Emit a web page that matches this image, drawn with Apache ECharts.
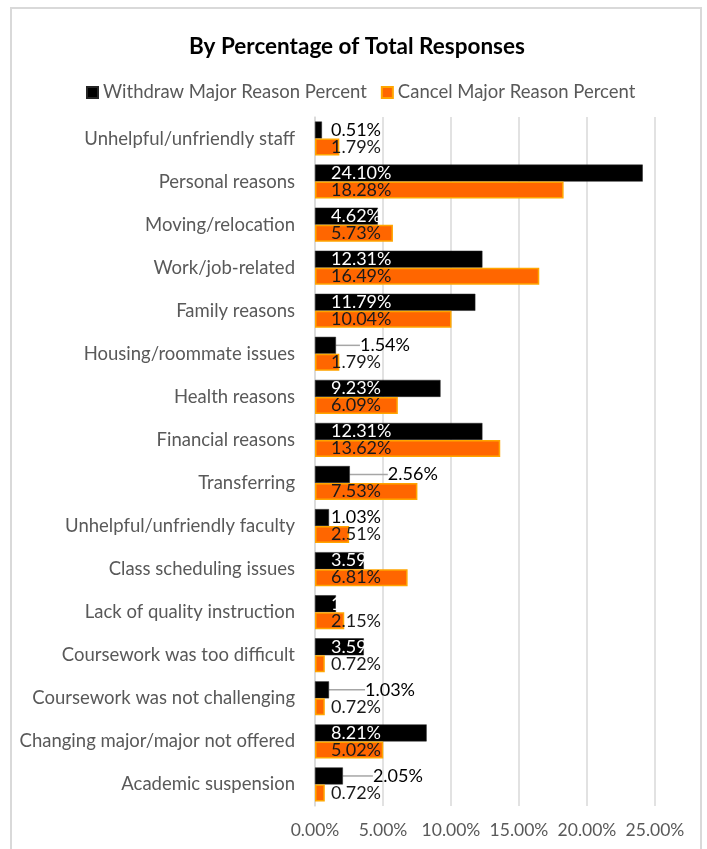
<!DOCTYPE html>
<html>
<head>
<meta charset="utf-8">
<script src="https://cdn.jsdelivr.net/npm/echarts@6/dist/echarts.min.js"></script>
<style>
  html, body { margin: 0; padding: 0; background: #fff; }
  #chart { position: absolute; left: 0; top: 0; width: 707px; height: 849px; }
  #frame { position: absolute; left: 10px; top: 7px; width: 688px; height: 860px;
           border: 2px solid #d9d9d9; pointer-events: none; }
</style>
</head>
<body>
<div id="chart"></div>
<div id="frame"></div>
<script>
const categories = [
  'Unhelpful/unfriendly staff',
  'Personal reasons',
  'Moving/relocation',
  'Work/job-related',
  'Family reasons',
  'Housing/roommate issues',
  'Health reasons',
  'Financial reasons',
  'Transferring',
  'Unhelpful/unfriendly faculty',
  'Class scheduling issues',
  'Lack of quality instruction',
  'Coursework was too difficult',
  'Coursework was not challenging',
  'Changing major/major not offered',
  'Academic suspension'
];
const withdrawPct = [0.51, 24.10, 4.62, 12.31, 11.79, 1.54, 9.23, 12.31, 2.56, 1.03, 3.59, 1.54, 3.59, 1.03, 8.21, 2.05];
const cancelPct = [1.79, 18.28, 5.73, 16.49, 10.04, 1.79, 6.09, 13.62, 7.53, 2.51, 6.81, 2.15, 0.72, 0.72, 5.02, 0.72];
const seriesNames = ['Withdraw Major Reason Percent', 'Cancel Major Reason Percent'];

// labels Excel pushed out with a leader line (index -> gap from bar end)
const leaderGap = {5: 24, 8: 38, 13: 36, 15: 30};
// labels drawn dark instead of white
const darkLabels = [0, 9];

const FONT = 'Lato';
const BASE_INSET = 16;
const pct = v => v.toFixed(2) + '%';

const chart = echarts.init(document.getElementById('chart'));

const withdrawData = withdrawPct.map((v, i) => {
  const item = {value: v};
  if (leaderGap[i] != null || darkLabels.includes(i)) {
    item.label = {color: '#000'};
  }
  if (leaderGap[i] != null) {
    item.labelLine = {show: true};
  }
  return item;
});

const baseLabel = color => ({
  show: true,
  position: 'insideLeft',
  formatter: p => pct(p.value),
  fontFamily: FONT, fontSize: 18, color: color
});

// pin every label at the bar base ("inside base"), or past the bar end for leader ones
const placeLabel = gaps => p => {
  const gap = gaps[p.dataIndex];
  const x = gap == null ? p.rect.x + BASE_INSET : p.rect.x + p.rect.width + gap;
  return {
    x: x,
    y: p.rect.y + p.rect.height / 2,
    align: 'left',
    verticalAlign: 'middle'
  };
};

const option = {
  backgroundColor: '#fff',
  animation: false,
  title: {
    text: 'By Percentage of Total Responses',
    left: 184,
    top: 30,
    textStyle: {fontFamily: FONT, fontSize: 22.5, fontWeight: 'bold', color: '#000'}
  },
  legend: {
    top: 78,
    left: 81,
    itemWidth: 11,
    itemHeight: 11,
    itemGap: 14,
    icon: 'rect',
    textStyle: {fontFamily: FONT, fontSize: 18.5, color: '#595959'},
    data: seriesNames
  },
  grid: {left: 315, right: 52, top: 117, bottom: 43, containLabel: false},
  xAxis: {
    type: 'value',
    min: 0,
    max: 25,
    interval: 5,
    axisLine: {show: false},
    axisTick: {show: false},
    splitLine: {lineStyle: {color: '#d9d9d9', width: 1.5}},
    axisLabel: {
      formatter: v => pct(v),
      fontFamily: FONT, fontSize: 17.5, color: '#595959', margin: 15
    }
  },
  yAxis: {
    type: 'category',
    inverse: true,
    data: categories,
    axisLine: {lineStyle: {color: '#d9d9d9', width: 1.5}},
    axisTick: {show: false},
    axisLabel: {fontFamily: FONT, fontSize: 18.5, color: '#595959', margin: 20}
  },
  series: [
    {
      name: seriesNames[0],
      type: 'bar',
      data: withdrawData,
      barWidth: 17,
      barGap: '0%',
      itemStyle: {color: '#000', borderColor: '#262626', borderWidth: 0.5},
      label: baseLabel('#fff'),
      labelLine: {lineStyle: {color: '#a6a6a6', width: 1.5}},
      labelLayout: placeLabel(leaderGap)
    },
    {
      name: seriesNames[1],
      type: 'bar',
      data: cancelPct,
      barWidth: 17,
      barGap: '0%',
      itemStyle: {color: '#ff6600', borderColor: '#ffa500', borderWidth: 1.5},
      label: baseLabel('#1a1a1a'),
      labelLayout: placeLabel({})
    }
  ]
};

chart.setOption(option);
</script>
</body>
</html>
